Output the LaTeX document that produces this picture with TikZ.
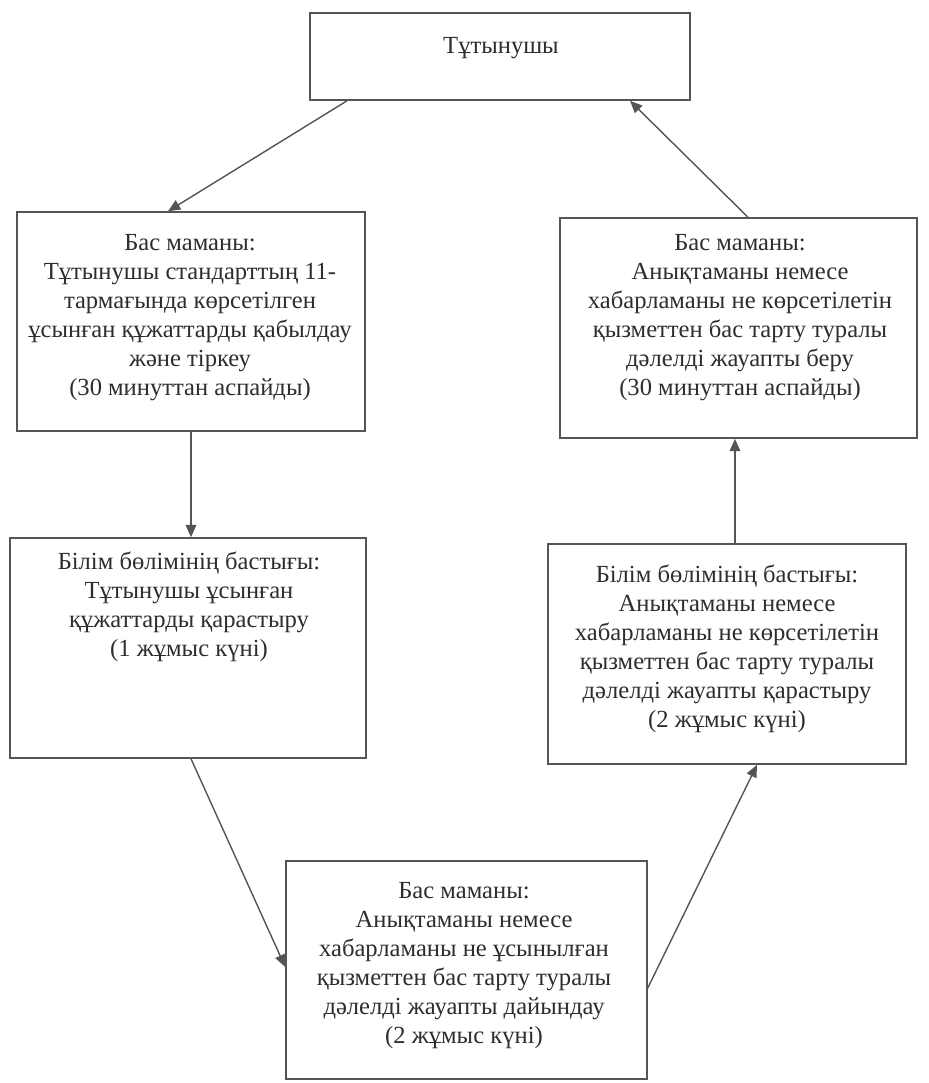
\documentclass[tikz,border=0pt]{standalone}
\usepackage{fontspec}
\setmainfont{Liberation Serif}
\usepackage{tikz}
\usetikzlibrary{arrows.meta}
\usepackage{xcolor}
\definecolor{linecolor}{RGB}{85,85,85}
\definecolor{textcolor}{RGB}{45,45,45}
\tikzset{
    stepbox/.style={rectangle,
        draw=linecolor,
        line width=0.9pt,
        inner sep=0pt},
    steptext/.style={anchor=north, align=center,
        inner sep=0pt,
        text=textcolor,
        font=\fontsize{14}{16.5}\selectfont},
    flow/.style={-{Triangle[length=7pt,width=6pt]}, line width=0.8pt, linecolor}
}

\begin{document}
\begin{tikzpicture}[x=0.02cm, y=-0.02cm]

\useasboundingbox (0,0) rectangle (929,1083);

% Top
\node[stepbox, minimum width=7.6cm, minimum height=1.74cm] (client) at (500, 56.5) {};
\node[steptext] (clienttxt) at (501, 37) {Тұтынушы};

% Left column
\node[stepbox, minimum width=6.96cm, minimum height=4.38cm] (recv) at (191, 321.5) {};
\node[steptext] (recvtxt) at (190, 234)
{Бас маманы:\\ Тұтынушы стандарттың 11-\\ тармағында көрсетілген\\
ұсынған құжаттарды қабылдау\\ және тіркеу\\ (30 минуттан аспайды)};

\node[stepbox, minimum width=7.12cm, minimum height=4.4cm] (review) at (188, 648) {};
\node[steptext] (reviewtxt) at (189, 552)
{Білім бөлімінің бастығы:\\ Тұтынушы ұсынған\\ құжаттарды қарастыру\\ (1 жұмыс күні)};

% Bottom
\node[stepbox, minimum width=7.22cm, minimum height=4.36cm] (prep) at (466.5, 970) {};
\node[steptext] (preptxt) at (464, 882)
{Бас маманы:\\ Анықтаманы немесе\\ хабарламаны не ұсынылған\\
қызметтен бас тарту туралы\\ дәлелді жауапты дайындау\\ (2 жұмыс күні)};

% Right column
\node[stepbox, minimum width=7.16cm, minimum height=4.4cm] (check) at (727, 654) {};
\node[steptext] (checktxt) at (727, 565)
{Білім бөлімінің бастығы:\\ Анықтаманы немесе\\ хабарламаны не көрсетілетін\\
қызметтен бас тарту туралы\\ дәлелді жауапты қарастыру\\ (2 жұмыс күні)};

\node[stepbox, minimum width=7.14cm, minimum height=4.4cm] (issue) at (738.5, 328) {};
\node[steptext] (issuetxt) at (740, 234)
{Бас маманы:\\ Анықтаманы немесе\\ хабарламаны не көрсетілетін\\
қызметтен бас тарту туралы\\ дәлелді жауапты беру\\ (30 минуттан аспайды)};

% Arrows
\draw[flow] ([xshift=-3.06cm]client.south) -- ([xshift=-0.46cm]recv.north);
\draw[flow] (recv.south) -- (recv.south |- review.north);
\draw[flow] ([xshift=0.06cm]review.south) -- ([yshift=0.06cm]prep.west);
\draw[flow] ([yshift=-0.36cm]prep.east) -- ([xshift=0.6cm]check.south);
\draw[flow] ([xshift=0.16cm]check.north) -- ([xshift=0.16cm]check.north |- issue.south);
\draw[flow] ([xshift=0.19cm]issue.north) -- ([xshift=2.6cm]client.south);

\end{tikzpicture}
\end{document}
